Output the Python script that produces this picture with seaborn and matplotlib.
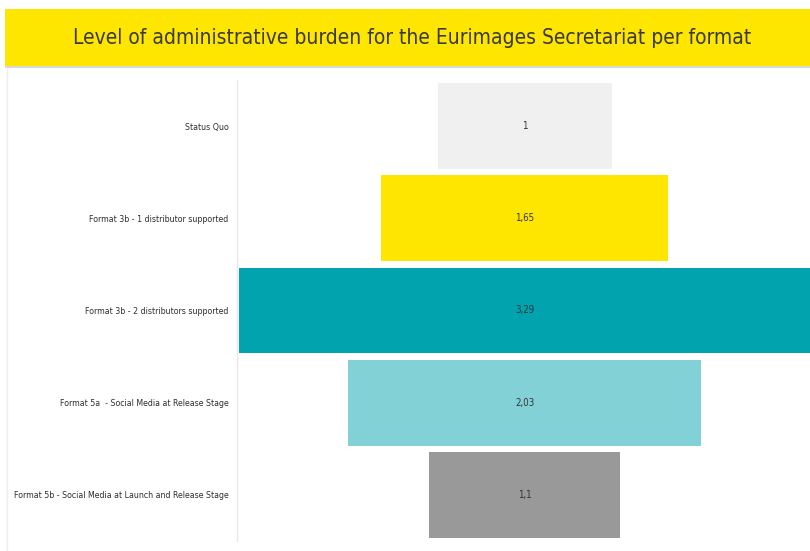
import matplotlib
matplotlib.use("Agg")
import matplotlib.pyplot as plt
import seaborn as sns
import pandas as pd
from matplotlib.patches import Rectangle
from matplotlib.lines import Line2D

categories = ["Status Quo", "Format 3b - 1 distributor supported",
              "Format 3b - 2 distributors supported",
              "Format 5a  - Social Media at Release Stage",
              "Format 5b - Social Media at Launch and Release Stage"]
values = [1.0, 1.65, 3.29, 2.03, 1.1]
value_labels = ["1", "1,65", "3,29", "2,03", "1,1"]
colors = ["#F0F0F0", "#FFE600", "#00A3AE", "#82D1D6", "#999999"]
title = "Level of administrative burden for the Eurimages Secretariat per format"

sns.set_theme(style="white")
plt.rcParams["font.family"] = ["DejaVu Sans"]
plt.rcParams["font.stretch"] = "condensed"

W, H = 810, 551
fig = plt.figure(figsize=(W / 100, H / 100), dpi=100)
fig.patch.set_facecolor("white")

# title band
fig.patches.append(Rectangle((5 / W, 1 - 68 / H), 1, 2 / H, transform=fig.transFigure,
                             facecolor="#D9D9D9", edgecolor="none", zorder=0))
fig.patches.append(Rectangle((5 / W, 1 - 66 / H), 1, 57 / H, transform=fig.transFigure,
                             facecolor="#FFE600", edgecolor="none", zorder=1))
fig.text(412 / W, 1 - 38 / H, title, ha="center", va="center",
         fontsize=15, color="#3A3A3A", fontstretch="condensed")
fig.lines.append(Line2D([7 / W, 7 / W], [0, 1 - 68 / H], transform=fig.transFigure,
                        color="#EEEEEE", lw=1))

ax = fig.add_axes([237 / W, 10 / H, 573 / W, 461 / H])
df = pd.DataFrame({"cat": categories, "val": values})
sns.barplot(data=df, x="val", y="cat", hue="cat", palette=colors, legend=False,
            width=0.93, ax=ax, orient="h", saturation=1)
for p in ax.patches:
    p.set_x(-p.get_width() / 2)
    p.set_edgecolor("none")

ax.set_xlim(-1.655, 1.64)
ax.set_ylim(4.5, -0.5)
for i, lab in enumerate(value_labels):
    ax.text(0, i, lab, ha="center", va="center", fontsize=7, color="#333333",
            fontstretch="condensed")

ax.set_xlabel("")
ax.set_ylabel("")
ax.set_xticks([])
ax.tick_params(axis="y", length=0, pad=6, labelsize=6.3, labelcolor="#2E2E2E")
for t in ax.get_yticklabels():
    t.set_fontstretch("condensed")
for s in ["top", "right", "bottom"]:
    ax.spines[s].set_visible(False)
ax.spines["left"].set_color("#E8E8E8")
ax.spines["left"].set_linewidth(1)

fig.savefig("out.png", dpi=100, facecolor="white")
